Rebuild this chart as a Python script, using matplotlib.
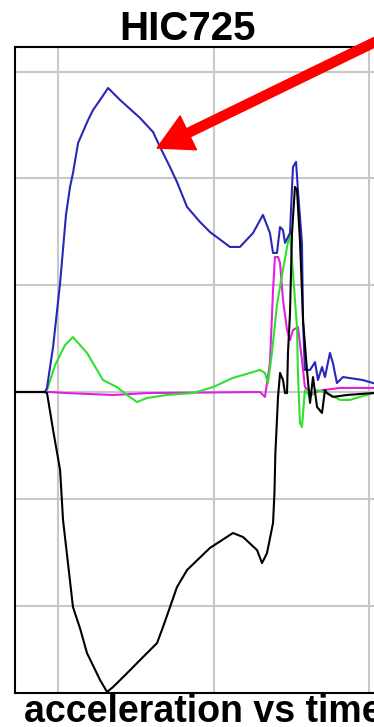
import matplotlib
matplotlib.use("Agg")
import matplotlib.pyplot as plt

plt.rcParams['font.family'] = ['Liberation Sans', 'DejaVu Sans']

# time (ms) and acceleration (g)
blue_t = [7.2, 9.16, 9.29, 9.36, 9.68, 10.13, 10.51, 10.77, 10.96, 11.29, 11.93, 12.25,
          12.70, 13.22, 13.99, 15.27, 16.11, 16.56, 17.20, 17.65, 18.30, 19.13, 19.77,
          21.06, 21.70, 22.54, 23.18, 23.63, 23.83, 24.08, 24.28, 24.47, 24.60, 24.92,
          25.11, 25.31, 25.43, 25.69, 25.76, 25.88, 26.21, 26.53, 26.72, 26.98, 27.17,
          27.49, 27.68, 27.94, 28.33, 29.61, 30.26, 30.71]
blue_a = [0, 0, 1.9, 5.6, 21.1, 51.0, 82.9, 96.0, 102.5, 116.6, 127.3, 132.0,
          136.7, 142.3, 136.7, 128.3, 121.7, 114.7, 105.3, 98.3, 86.6, 79.6, 74.9,
          67.9, 67.9, 74.4, 82.9, 74.4, 65.1, 65.1, 77.2, 75.8, 69.8, 74.4,
          105.3, 107.7, 94.6, 69.8, 32.3, 10.3, 10.3, 14.0, 5.6, 11.7, 7.0,
          18.3, 13.6, 4.2, 7.0, 5.6, 4.2, 3.7]

black_t = [7.2, 9.16, 9.29, 9.68, 10.13, 10.32, 10.96, 11.42, 11.86, 12.70, 13.15,
           13.54, 14.44, 15.27, 16.37, 16.75, 17.20, 17.65, 18.30, 19.77, 21.25, 21.90,
           22.80, 23.12, 23.44, 23.83, 23.92, 23.98, 24.15, 24.28, 24.47, 24.60, 24.73,
           24.79, 24.92, 25.05, 25.24, 25.37, 25.56, 25.76, 26.01, 26.21, 26.40,
           26.66, 26.98, 27.17, 27.30, 27.68, 28.59, 30.26, 30.71]
black_a = [0, 0, -0.5, -17.8, -36.5, -59.9, -100.7, -110.8, -122.2, -134.8, -140.4,
           -138.1, -131.6, -125.5, -117.5, -110.0, -100.7, -91.3, -83.3, -73.0, -66.0, -67.9,
           -74.0, -80.1, -75.4, -61.3, -47.3, -28.6, -2.3, 8.9, 5.6, -0.5, -0.5,
           18.3, 37.0, 74.4, 96.0, 94.6, 71.2, 33.7, 10.3, -5.1, 7.0,
           -7.0, -9.8, 0.9, -0.5, -2.3, -1.4, -0.5, -0.5]

green_t = [7.2, 9.16, 9.29, 9.81, 10.45, 10.96, 11.86, 12.89, 13.79, 14.44,
           15.08, 15.72, 17.01, 18.68, 19.97, 21.25, 22.99, 23.31, 23.50, 23.76,
           24.08, 24.41, 24.73, 24.92, 25.11, 25.37, 25.43, 25.56, 25.69, 25.88,
           26.21, 26.66, 27.30, 28.14, 28.78, 30.26, 30.71]
green_a = [0, 0, 0.9, 12.6, 22.0, 25.7, 18.3, 5.6, 2.3, -1.4,
           -4.7, -2.8, -1.4, -0.5, 2.3, 6.6, 10.3, 8.9, 4.2, 18.3,
           40.7, 54.8, 67.9, 74.4, 55.7, 30.4, 8.9, -14.5, -16.4, 0.9,
           -2.3, 0.9, -0.5, -3.7, -3.7, -0.5, -0.5]

magenta_t = [7.2, 9.16, 9.49, 10.58, 13.54, 15.72, 22.99, 23.31, 23.63, 23.83,
             23.95, 24.15, 24.28, 24.47, 24.73, 24.92, 25.11, 25.43, 25.69, 25.88,
             26.33, 27.04, 28.14, 30.26, 30.71]
magenta_a = [0, 0, 0, -0.5, -1.4, -0.5, 0, -2.3, 13.6, 47.8,
             63.2, 63.2, 60.4, 43.1, 29.0, 24.3, 29.0, 30.4, 15.0, 2.3,
             -0.5, 0.9, 1.9, 1.9, 1.9]

x_grid = [10, 20, 30]
y_grid = [-100, -50, 0, 50, 100, 150]

title = 'HIC725'
caption = 'acceleration vs time'

fig = plt.figure(figsize=(3.74, 7.27), dpi=100)
ax = fig.add_axes([15 / 374, 1 - 693 / 727, 365 / 374, 646 / 727])

ax.plot(magenta_t, magenta_a, color='#e020e0', lw=1.5)
ax.plot(green_t, green_a, color='#30e030', lw=1.5)
ax.plot(blue_t, blue_a, color='#2828b8', lw=1.5)
ax.plot(black_t, black_a, color='black', lw=1.5)

ax.set_xlim(7.23, 30.71)
ax.set_ylim(-140.9, 161.5)
ax.set_xticks(x_grid)
ax.set_yticks(y_grid)
ax.tick_params(length=0, labelbottom=False, labelleft=False)
ax.grid(True, color='#c8c8c8', lw=1.5)
ax.set_axisbelow(True)
for s in ax.spines.values():
    s.set_linewidth(1.5)
    s.set_color('black')

# red arrow pointing at the blue curve
ax.annotate('', xy=(16.37, 114.2), xytext=(31.7, 168.5),
            arrowprops=dict(width=6.5, headwidth=27, headlength=25,
                            color='#ff0000', shrink=0),
            annotation_clip=False)

fig.text(187 / 374, 1 - 40 / 727, title, ha='center', va='baseline',
         fontsize=29, fontweight='bold')
fig.text(24 / 374, 1 - 722 / 727, caption, ha='left', va='baseline',
         fontsize=27, fontweight='bold')

fig.savefig('out.png', dpi=100)
